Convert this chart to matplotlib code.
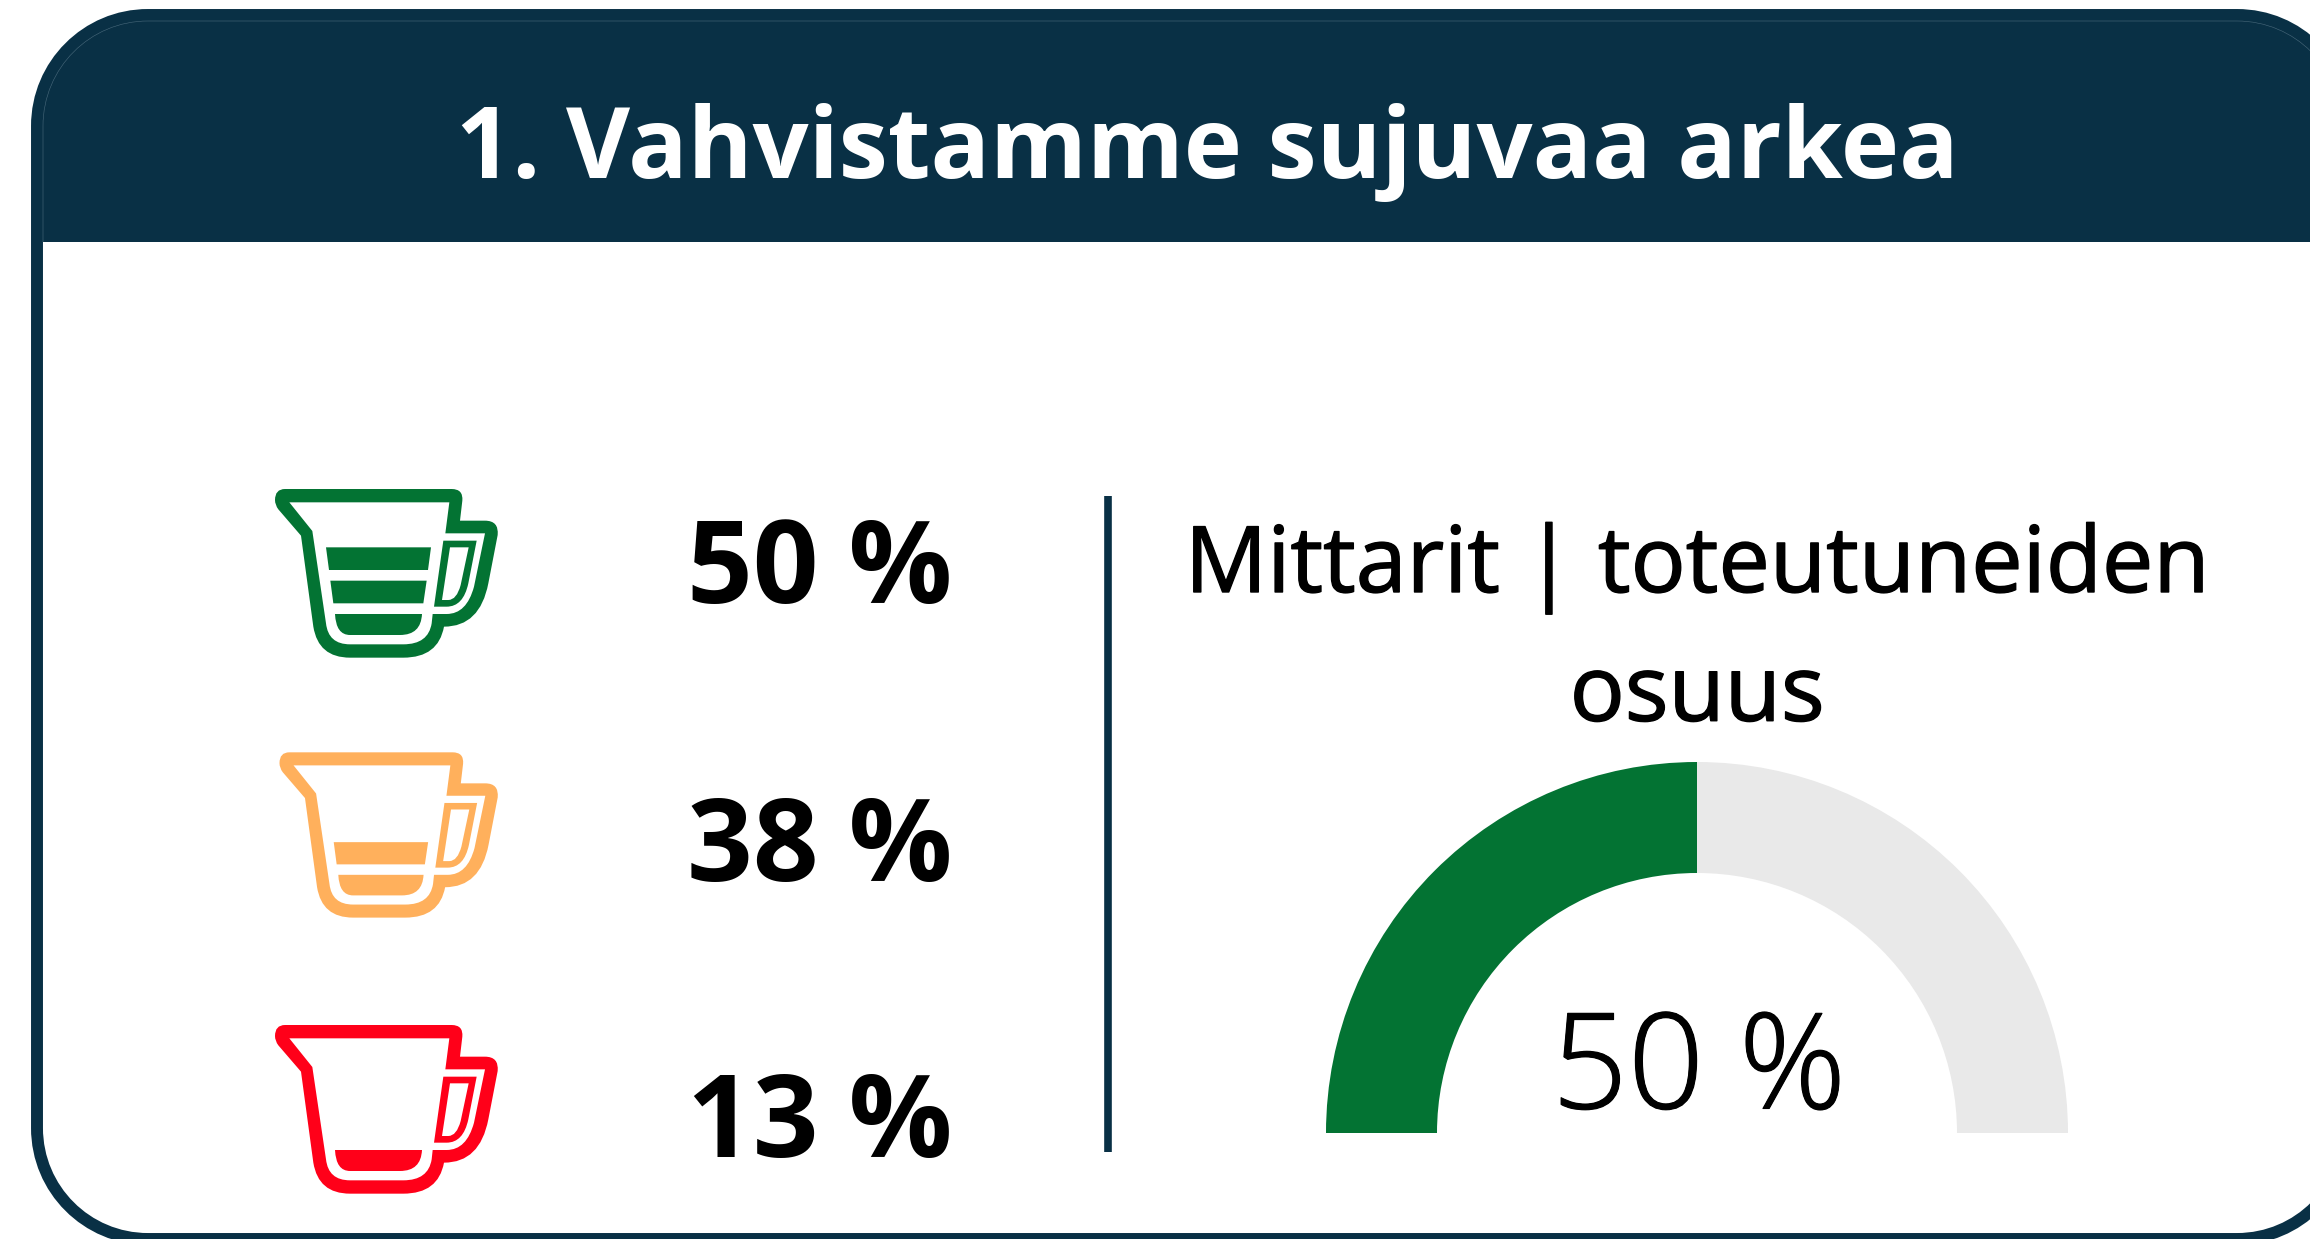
import matplotlib
matplotlib.use("Agg")
import matplotlib.pyplot as plt
import matplotlib.patheffects as pe
from matplotlib.patches import PathPatch, Wedge, Rectangle
from matplotlib.path import Path

# ---- data ----
title = "1. Vahvistamme sujuvaa arkea"
shares = [50, 38, 13]
share_labels = ["50 %", "38 %", "13 %"]
cup_bands = [3, 2, 1]
cup_colors = ["#037333", "#FFB05C", "#FF0019"]
gauge_label_1 = "Mittarit | toteutuneiden"
gauge_label_2 = "osuus"
gauge_value = 50
gauge_text = "50 %"

NAVY = "#093045"
GREY = "#E9E9E9"
FONT = "Open Sans"

fig = plt.figure(figsize=(23.10, 12.39), dpi=100, facecolor="white")
ax = fig.add_axes([0, 0, 1, 1])
ax.set_xlim(0, 2310)
ax.set_ylim(1239, 0)
ax.axis("off")


def round_rect(x0, y0, x1, y1, r):
    k = 0.5523 * r
    M, L, C, Z = Path.MOVETO, Path.LINETO, Path.CURVE4, Path.CLOSEPOLY
    v = [(x0 + r, y0), (x1 - r, y0), (x1 - r + k, y0), (x1, y0 + r - k), (x1, y0 + r),
         (x1, y1 - r), (x1, y1 - r + k), (x1 - r + k, y1), (x1 - r, y1),
         (x0 + r, y1), (x0 + r - k, y1), (x0, y1 - r + k), (x0, y1 - r),
         (x0, y0 + r), (x0, y0 + r - k), (x0 + r - k, y0), (x0 + r, y0), (x0 + r, y0)]
    c = [M, L, C, C, C, L, C, C, C, L, C, C, C, L, C, C, C, Z]
    return Path(v, c)


# frame and header
frame_path = round_rect(37, 15, 2348, 1239, 111)
inner_path = round_rect(43, 21, 2342, 1233, 105)
ax.add_patch(PathPatch(frame_path, fc="white", ec=NAVY, lw=8.6))
hdr = Rectangle((0, 0), 2400, 242, fc=NAVY, ec="none")
ax.add_patch(hdr)
hdr.set_clip_path(PathPatch(frame_path, transform=ax.transData))
edge = PathPatch(inner_path, fc="none", ec="#4A6A7C", lw=0.4)
ax.add_patch(edge)
edge.set_clip_path(Rectangle((0, 0), 2400, 242, transform=ax.transData))
ax.text(1207, 153, title, color="white", family=FONT, weight="bold", size=71, ha="center", va="center")


# cup icon
def cup_paths():
    M, L, C, Z = Path.MOVETO, Path.LINETO, Path.CURVE3, Path.CLOSEPOLY
    outer = [(M, (105, 57)), (L, (605, 57)), (C, (640, 57)), (C, (637, 92)), (L, (630, 152)), (L, (705, 152)),
             (C, (747, 152)), (C, (743, 195)), (L, (715, 340)), (C, (690, 470)), (C, (582, 470)),
             (C, (565, 563)), (C, (460, 563)), (L, (300, 563)), (C, (205, 563)), (C, (190, 470)),
             (L, (153, 197)), (L, (85, 118)), (C, (75, 105)), (C, (75, 90)), (C, (75, 57)), (C, (105, 57)),
             (Z, (105, 57))]
    inner = [(M, (118, 97)), (L, (598, 97)), (L, (586, 190)), (L, (705, 190)), (L, (672, 350)),
             (C, (650, 432)), (C, (590, 432)), (L, (548, 432)), (L, (545, 460)), (C, (535, 523)), (C, (460, 523)),
             (L, (300, 523)), (C, (235, 523)), (C, (228, 460)), (L, (187, 183)), (L, (118, 97)), (Z, (118, 97))]
    handle = [(M, (580, 212)), (L, (680, 212)), (L, (655, 340)), (C, (640, 410)), (C, (590, 410)), (L, (552, 410)),
              (L, (580, 212)), (Z, (580, 212))]
    hole = [(M, (600, 232)), (L, (656, 232)), (L, (632, 345)), (C, (620, 390)), (C, (595, 390)), (L, (576, 390)),
            (L, (600, 232)), (Z, (600, 232))]
    band1 = [(M, (228, 232)), (L, (543, 232)), (L, (534, 300)), (L, (237, 300)), (L, (228, 232)), (Z, (228, 232))]
    band2 = [(M, (241, 332)), (L, (530, 332)), (L, (520, 400)), (L, (250, 400)), (L, (241, 332)), (Z, (241, 332))]
    band3 = [(M, (255, 432)), (L, (516, 432)), (C, (513, 495)), (C, (450, 495)), (L, (300, 495)),
             (C, (258, 495)), (C, (255, 432)), (Z, (255, 432))]
    return outer, inner, handle, hole, band1, band2, band3


def draw_cup(ox, oy, s, color, n):
    outer, inner, handle, hole, b1, b2, b3 = cup_paths()

    def add(segs, fc):
        verts = [(ox + s * x / 3, oy + s * y / 3) for _, (x, y) in segs]
        codes = [c for c, _ in segs]
        ax.add_patch(PathPatch(Path(verts, codes), fc=fc, ec="none", lw=0))

    add(outer, color)
    add(inner, "white")
    add(handle, color)
    add(hole, "white")
    for b in [b3, b2, b1][:n]:
        add(b, color)


cup_origin = [(250, 470, 1.0), (255, 733.7, 0.98), (250, 1006, 1.0)]
text_y = [573, 851, 1127]
for (ox, oy, s), col, n, lab, ty in zip(cup_origin, cup_colors, cup_bands, share_labels, text_y):
    draw_cup(ox, oy, s, col, n)
    ax.text(820, ty, lab, color="black", family=FONT, weight="bold", size=83, ha="center", va="center")

# divider
ax.plot([1108, 1108], [496, 1152], color=NAVY, lw=5.5, solid_capstyle="butt")

# gauge
heavier = [pe.withStroke(linewidth=1.0, foreground="black")]
ax.text(1697, 568, gauge_label_1, family=FONT, size=66, ha="center", va="center", color="black", path_effects=heavier)
ax.text(1697, 697, gauge_label_2, family=FONT, size=66, ha="center", va="center", color="black", path_effects=heavier)
cx, cy, R, w = 1697, 1133, 371, 111
split = 180 + 180 * gauge_value / 100
ax.add_patch(Wedge((cx, cy), R, 180, split, width=w, fc=cup_colors[0], ec="none"))
ax.add_patch(Wedge((cx, cy), R, split, 360, width=w, fc=GREY, ec="none"))
ax.text(cx + 2, 1074, gauge_text, family=FONT, weight="light", size=96, ha="center", va="center", color="black",
        path_effects=[pe.withStroke(linewidth=0.8, foreground="black")])

fig.savefig("out.png", dpi=100, facecolor="white")
